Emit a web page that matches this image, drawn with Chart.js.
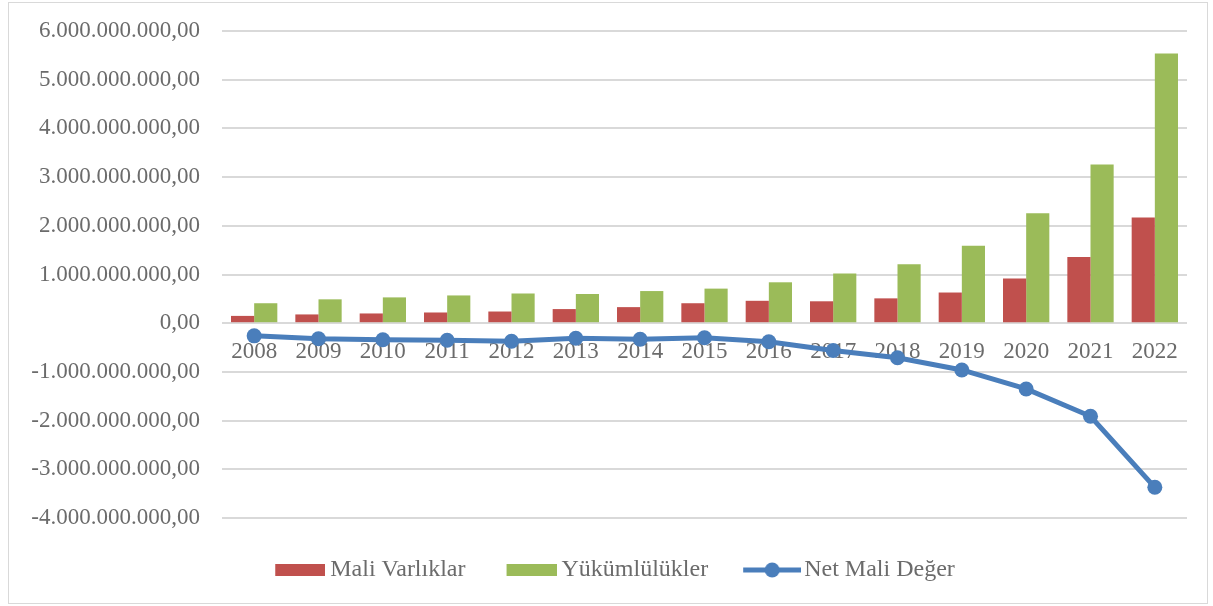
<!DOCTYPE html>
<html>
<head>
<meta charset="utf-8">
<script src="https://cdn.jsdelivr.net/npm/chart.js@4/dist/chart.umd.min.js"></script>
<style>
  html, body { margin: 0; padding: 0; background: #fff; }
  #wrap { position: relative; width: 1213px; height: 606px; }
  #frame { position: absolute; left: 8px; top: 2px; width: 1198px; height: 600px; border: 1px solid #d9d9d9; pointer-events: none; }
  canvas { position: absolute; left: 0; top: 0; }
</style>
</head>
<body>
<div id="wrap">
  <canvas id="c" width="1213" height="606"></canvas>
  <div id="frame"></div>
</div>
<script>
const years = ['2008','2009','2010','2011','2012','2013','2014','2015','2016','2017','2018','2019','2020','2021','2022'];
const maliVarliklar = [0.15e9, 0.18e9, 0.20e9, 0.22e9, 0.24e9, 0.29e9, 0.33e9, 0.41e9, 0.46e9, 0.45e9, 0.51e9, 0.63e9, 0.92e9, 1.36e9, 2.17e9];
const yukumlulukler = [0.41e9, 0.49e9, 0.53e9, 0.57e9, 0.61e9, 0.60e9, 0.66e9, 0.71e9, 0.84e9, 1.02e9, 1.21e9, 1.59e9, 2.26e9, 3.26e9, 5.54e9];
const netMaliDeger = [-0.26e9, -0.32e9, -0.34e9, -0.35e9, -0.37e9, -0.31e9, -0.33e9, -0.30e9, -0.38e9, -0.56e9, -0.71e9, -0.96e9, -1.35e9, -1.91e9, -3.37e9];
const seriesNames = ['Mali Varlıklar', 'Yükümlülükler', 'Net Mali Değer'];
const yMin = -4e9, yMax = 6e9, yStep = 1e9;

const RED = '#C0504D', GREEN = '#9BBB59', BLUE = '#4A7EBB';
const FONT = "'Liberation Serif', 'Times New Roman', serif";
const TXT = '#6b6b6b';

function fmt(v) {
  const neg = v < 0;
  let s = Math.round(Math.abs(v)).toString().replace(/\B(?=(\d{3})+(?!\d))/g, '.');
  return (neg ? '-' : '') + s + ',00';
}

function rectIcon(color) {
  const c = document.createElement('canvas');
  c.width = 58; c.height = 12;
  const g = c.getContext('2d');
  g.fillStyle = color;
  g.fillRect(8, 0, 50, 12);
  return c;
}
function lineIcon(color) {
  const c = document.createElement('canvas');
  c.width = 62; c.height = 18;
  const g = c.getContext('2d');
  g.strokeStyle = color; g.lineWidth = 5;
  g.beginPath(); g.moveTo(4, 9); g.lineTo(62, 9); g.stroke();
  g.fillStyle = color;
  g.beginPath(); g.arc(33, 9, 7.5, 0, Math.PI * 2); g.fill();
  return c;
}
const legendIcons = [rectIcon(RED), rectIcon(GREEN), lineIcon(BLUE)];

const shiftLegend = {
  id: 'shiftLegend',
  afterLayout(chart) {
    if (chart.legend) { chart.legend.left += 21; chart.legend.right += 21; }
  }
};

new Chart(document.getElementById('c'), {
  type: 'bar',
  data: {
    labels: years,
    datasets: [
      { label: seriesNames[0], data: maliVarliklar, backgroundColor: RED, order: 1 },
      { label: seriesNames[1], data: yukumlulukler, backgroundColor: GREEN, order: 1 },
      { type: 'line', label: seriesNames[2], data: netMaliDeger, borderColor: BLUE, backgroundColor: BLUE,
        borderWidth: 5, pointRadius: 7.5, pointHoverRadius: 7.5, pointBackgroundColor: BLUE, pointBorderWidth: 0,
        pointStyle: 'circle', tension: 0, order: 0 }
    ]
  },
  plugins: [shiftLegend],
  options: {
    responsive: false,
    animation: false,
    layout: { padding: { left: 0, right: 26, top: 31, bottom: 14 } },
    datasets: { bar: { categoryPercentage: 0.72, barPercentage: 1.0 } },
    scales: {
      x: {
        position: { y: 0 },
        grid: { display: false, drawTicks: false },
        border: { display: false },
        ticks: { color: TXT, font: { family: FONT, size: 23 }, padding: 15, maxRotation: 0, autoSkip: false }
      },
      y: {
        min: yMin, max: yMax,
        grid: { color: '#d9d9d9', lineWidth: 2, drawTicks: false },
        border: { display: false },
        afterFit: (s) => { s.width = 222; s.paddingTop = 0; s.paddingBottom = 0; },
        ticks: { stepSize: yStep, color: TXT, font: { family: FONT, size: 23 }, padding: 22, callback: (v) => fmt(v) }
      }
    },
    plugins: {
      tooltip: { enabled: false },
      legend: {
        position: 'bottom',
        labels: {
          usePointStyle: true,
          pointStyleWidth: 44,
          padding: 40,
          color: TXT,
          font: { family: FONT, size: 24 },
          sort: (a, b) => a.datasetIndex - b.datasetIndex,
          generateLabels: (chart) => {
            const items = Chart.defaults.plugins.legend.labels.generateLabels(chart);
            items.forEach(it => { it.pointStyle = legendIcons[it.datasetIndex]; });
            return items;
          }
        }
      }
    }
  }
});
</script>
</body>
</html>
